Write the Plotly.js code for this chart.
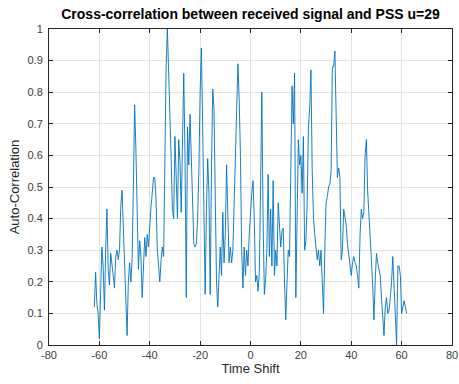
<!DOCTYPE html>
<html>
<head>
<meta charset="utf-8">
<script src="https://cdn.plot.ly/plotly-3.0.1.min.js"></script>
<style>html,body{margin:0;padding:0;background:#fff;}#chart{width:459px;height:384px;}</style>
</head>
<body>
<div id="chart"></div>
<script>
var timeShift = [
-62.0,-61.5,-61.0,-60.5,-60.0,-59.5,-59.0,-58.5,-58.0,-57.5,-57.0,-56.5,-56.0,-55.5,-55.0,-54.5,-54.0,-53.5,-53.0,-52.5,
-52.0,-51.5,-51.0,-50.5,-50.0,-49.5,-49.0,-48.5,-48.0,-47.5,-47.0,-46.5,-46.0,-45.5,-45.0,-44.5,-44.0,-43.5,-43.0,-42.5,
-42.0,-41.5,-41.0,-40.5,-40.0,-39.5,-39.0,-38.5,-38.0,-37.5,-37.0,-36.5,-36.0,-35.5,-35.0,-34.5,-34.0,-33.5,-33.0,-32.5,
-32.0,-31.5,-31.0,-30.5,-30.0,-29.5,-29.0,-28.5,-28.0,-27.5,-27.0,-26.5,-26.0,-25.5,-25.0,-24.5,-24.0,-23.5,-23.0,-22.5,
-22.0,-21.5,-21.0,-20.5,-20.0,-19.5,-19.0,-18.5,-18.0,-17.5,-17.0,-16.5,-16.0,-15.5,-15.0,-14.5,-14.0,-13.5,-13.0,-12.5,
-12.0,-11.5,-11.0,-10.5,-10.0,-9.5,-9.0,-8.5,-8.0,-7.5,-7.0,-6.5,-6.0,-5.5,-5.0,-4.5,-4.0,-3.5,-3.0,-2.5,
-2.0,-1.5,-1.0,-0.5,0.0,0.5,1.0,1.5,2.0,2.5,3.0,3.5,4.0,4.5,5.0,5.5,6.0,6.5,7.0,7.5,
8.0,8.5,9.0,9.5,10.0,10.5,11.0,11.5,12.0,12.5,13.0,13.5,14.0,14.5,15.0,15.5,16.0,16.5,17.0,17.5,
18.0,18.5,19.0,19.5,20.0,20.5,21.0,21.5,22.0,22.5,23.0,23.5,24.0,24.5,25.0,25.5,26.0,26.5,27.0,27.5,
28.0,28.5,29.0,29.5,30.0,30.5,31.0,31.5,32.0,32.5,33.0,33.5,34.0,34.5,35.0,35.5,36.0,36.5,37.0,37.5,
38.0,38.5,39.0,39.5,40.0,40.5,41.0,41.5,42.0,42.5,43.0,43.5,44.0,44.5,45.0,45.5,46.0,46.5,47.0,47.5,
48.0,48.5,49.0,49.5,50.0,50.5,51.0,51.5,52.0,52.5,53.0,53.5,54.0,54.5,55.0,55.5,56.0,56.5,57.0,57.5,
58.0,58.5,59.0,59.5,60.0,60.5,61.0,61.5,62.0
];
var autoCorr = [
0.12,0.23,0.13,0.10,0.02,0.18,0.31,0.25,0.11,0.30,0.43,0.24,0.19,0.29,0.26,0.22,0.18,0.28,0.30,0.27,
0.30,0.44,0.49,0.36,0.26,0.10,0.03,0.20,0.26,0.20,0.27,0.50,0.76,0.62,0.42,0.24,0.33,0.28,0.15,0.25,
0.34,0.28,0.35,0.31,0.40,0.44,0.48,0.53,0.53,0.46,0.30,0.26,0.20,0.27,0.31,0.28,0.62,0.88,1.00,0.88,
0.73,0.59,0.43,0.40,0.66,0.50,0.40,0.65,0.58,0.42,0.70,0.86,0.60,0.15,0.69,0.57,0.73,0.58,0.42,0.32,
0.31,0.32,0.40,0.55,0.80,0.94,0.70,0.40,0.16,0.42,0.59,0.48,0.16,0.55,0.81,0.75,0.42,0.20,0.12,0.22,
0.31,0.22,0.42,0.26,0.35,0.57,0.42,0.26,0.31,0.26,0.30,0.45,0.62,0.78,0.89,0.78,0.60,0.30,0.18,0.31,
0.22,0.30,0.25,0.35,0.44,0.48,0.52,0.40,0.20,0.22,0.17,0.23,0.50,0.80,0.40,0.16,0.21,0.30,0.54,0.28,
0.43,0.25,0.52,0.22,0.30,0.25,0.45,0.38,0.31,0.36,0.37,0.20,0.08,0.20,0.30,0.28,0.50,0.82,0.70,0.86,
0.15,0.45,0.65,0.57,0.60,0.48,0.66,0.30,0.33,0.45,0.69,0.75,0.87,0.55,0.40,0.35,0.31,0.27,0.30,0.25,
0.30,0.20,0.10,0.30,0.45,0.47,0.50,0.51,0.55,0.88,0.88,0.93,0.75,0.53,0.56,0.53,0.27,0.30,0.43,0.41,
0.38,0.32,0.28,0.24,0.22,0.26,0.28,0.26,0.25,0.22,0.18,0.35,0.43,0.40,0.42,0.60,0.65,0.49,0.40,0.32,
0.27,0.19,0.08,0.20,0.29,0.26,0.24,0.22,0.15,0.10,0.03,0.12,0.15,0.10,0.11,0.15,0.20,0.28,0.20,0.08,
0.00,0.25,0.25,0.22,0.10,0.12,0.14,0.12,0.10
];
var xTicks = [-80,-60,-40,-20,0,20,40,60,80];
var yTicks = [0,0.1,0.2,0.3,0.4,0.5,0.6,0.7,0.8,0.9,1];
var yTickText = ['0','0.1','0.2','0.3','0.4','0.5','0.6','0.7','0.8','0.9','1'];

var FONT = 'Liberation Sans, Arial, sans-serif';
var axisCommon = {
  showline: true, mirror: 'ticks', linecolor: '#262626', linewidth: 1,
  ticks: 'inside', ticklen: 4, tickcolor: '#262626',
  showgrid: true, gridcolor: '#e3e3e3', gridwidth: 1,
  zeroline: false, automargin: false,
  tickfont: {family: FONT, size: 11, color: '#404040'}
};

var layout = {
  width: 459, height: 384,
  margin: {l: 49, r: 7, t: 29, b: 39},
  paper_bgcolor: '#ffffff', plot_bgcolor: '#ffffff',
  showlegend: false,
  title: {
    text: '<b>Cross-correlation between received signal and PSS u=29</b>',
    font: {family: FONT, size: 14, color: '#000000'},
    xref: 'paper', x: 0.5, xanchor: 'center',
    yref: 'container', y: 0.963, yanchor: 'middle'
  },
  xaxis: Object.assign({}, axisCommon, {
    range: [-80, 80], tickvals: xTicks, ticktext: xTicks.map(String),
    ticklabelstandoff: 0,
    title: {text: 'Time Shift', standoff: 2,
      font: {family: FONT, size: 13, color: '#262626'}}
  }),
  yaxis: Object.assign({}, axisCommon, {
    range: [0, 1], tickvals: yTicks, ticktext: yTickText,
    ticklabelstandoff: 3,
    title: {text: 'Auto-Correlation', standoff: 4,
      font: {family: FONT, size: 13, color: '#262626'}}
  })
};

var trace = {
  x: timeShift, y: autoCorr, type: 'scatter', mode: 'lines',
  line: {color: '#0072BD', width: 0.9}, hoverinfo: 'skip'
};

Plotly.newPlot('chart', [trace], layout, {staticPlot: true, displayModeBar: false});
</script>
</body>
</html>
